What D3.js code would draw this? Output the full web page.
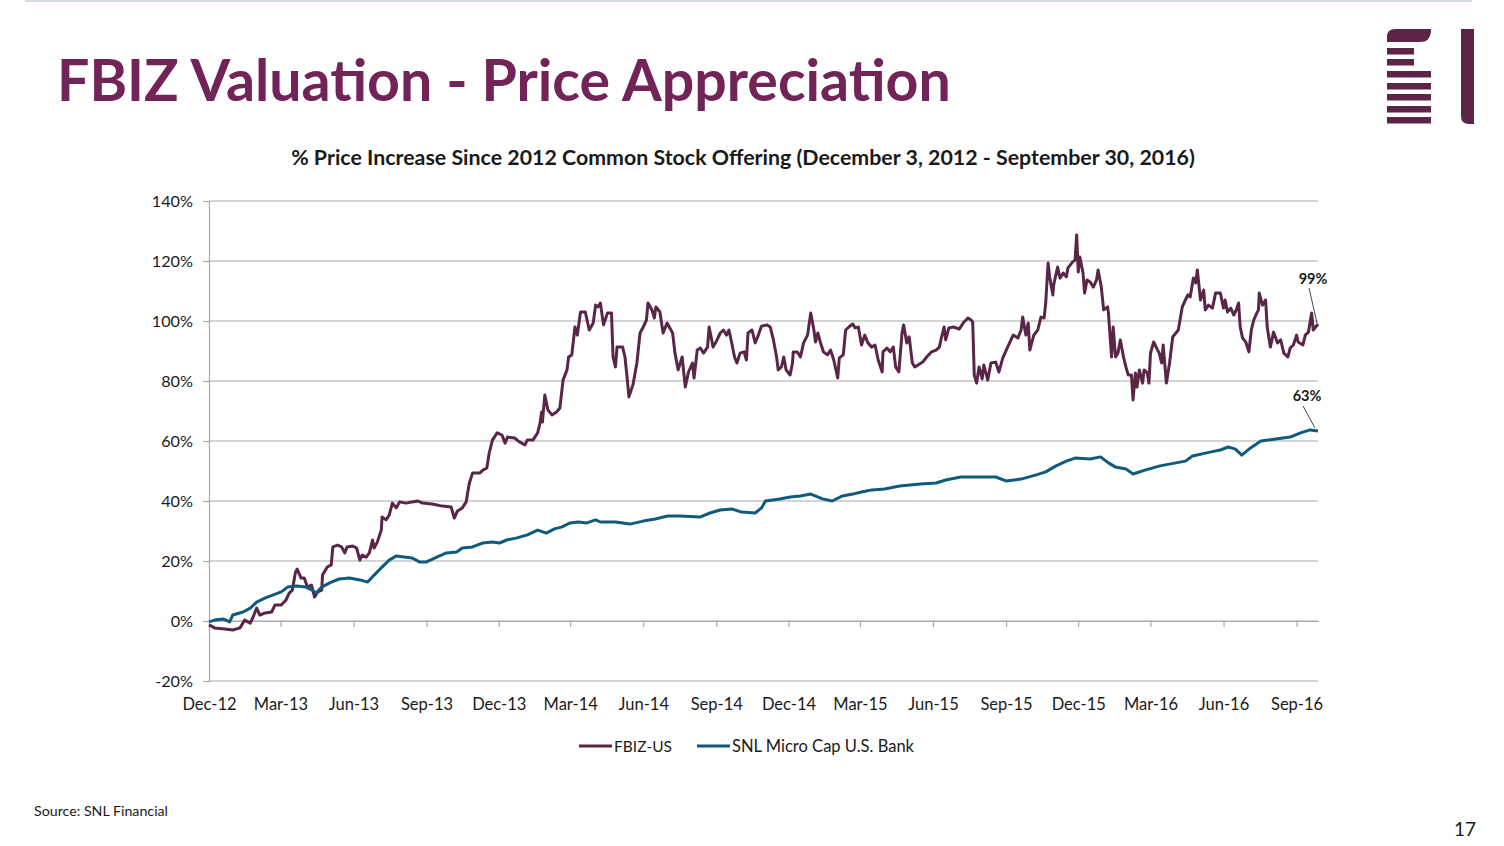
<!DOCTYPE html>
<html><head><meta charset="utf-8">
<script src="https://cdn.jsdelivr.net/npm/d3@7"></script>
<style>html,body{margin:0;padding:0;background:#fff;} svg{display:block;font-family:Lato,'Open Sans',sans-serif;}</style>
</head><body>
<svg id="c" width="1504" height="846"></svg>
<script>
// ---------- DATA ----------
const pageTitle = "FBIZ Valuation - Price Appreciation";
const chartTitle = "% Price Increase Since 2012 Common Stock Offering (December 3, 2012 - September 30, 2016)";
const seriesNames = ["FBIZ-US", "SNL Micro Cap U.S. Bank"];
const xTickLabels = ["Dec-12","Mar-13","Jun-13","Sep-13","Dec-13","Mar-14","Jun-14","Sep-14","Dec-14","Mar-15","Jun-15","Sep-15","Dec-15","Mar-16","Jun-16","Sep-16"];
const xTickDates = ["2012-12-03","2013-03-03","2013-06-03","2013-09-03","2013-12-03","2014-03-03","2014-06-03","2014-09-03","2014-12-03","2015-03-03","2015-06-03","2015-09-03","2015-12-03","2016-03-03","2016-06-03","2016-09-03"];
const xDomain = ["2012-12-03","2016-09-30"];
const yTicks = [-20,0,20,40,60,80,100,120,140];
const endLabels = ["99%","63%"];
const sourceNote = "Source: SNL Financial";
const pageNumber = "17";

// % price change, FBIZ-US
const fbiz = [
["2012-12-03",-1.3],["2012-12-10",-2.3],["2012-12-23",-2.7],["2013-01-02",-3.0],["2013-01-11",-2.3],["2013-01-17",0.3],
["2013-01-24",-0.7],["2013-01-27",1.0],["2013-02-01",4.3],["2013-02-05",2.0],["2013-02-12",2.7],["2013-02-20",3.0],
["2013-02-24",5.3],["2013-03-04",5.3],["2013-03-10",7.0],["2013-03-14",9.3],["2013-03-18",10.3],["2013-03-22",16.3],
["2013-03-24",17.3],["2013-03-29",14.3],["2013-04-02",14.3],["2013-04-06",11.3],["2013-04-11",12.0],["2013-04-15",8.0],
["2013-04-19",9.7],["2013-04-24",10.3],["2013-04-25",15.3],["2013-05-01",18.0],["2013-05-06",18.7],["2013-05-08",24.7],
["2013-05-14",25.3],["2013-05-19",24.7],["2013-05-23",22.7],["2013-05-26",24.7],["2013-06-02",25.0],["2013-06-07",24.3],
["2013-06-11",20.3],["2013-06-14",22.0],["2013-06-19",21.3],["2013-06-23",22.7],["2013-06-27",27.0],["2013-06-29",24.3],
["2013-07-03",26.3],["2013-07-08",30.3],["2013-07-09",34.7],["2013-07-14",33.7],["2013-07-18",35.3],["2013-07-22",39.3],
["2013-07-27",37.7],["2013-07-31",39.7],["2013-08-08",39.3],["2013-08-16",39.7],["2013-08-23",40.0],["2013-08-29",39.3],
["2013-09-10",39.0],["2013-09-23",38.3],["2013-10-04",38.0],["2013-10-08",34.3],["2013-10-12",36.7],["2013-10-18",37.7],
["2013-10-23",39.7],["2013-10-25",43.0],["2013-10-27",46.0],["2013-10-31",49.3],["2013-11-09",49.3],["2013-11-13",50.3],
["2013-11-18",51.0],["2013-11-21",56.0],["2013-11-25",60.3],["2013-12-01",62.7],["2013-12-07",62.0],["2013-12-11",59.3],
["2013-12-14",61.3],["2013-12-23",61.0],["2013-12-29",59.7],["2014-01-05",58.7],["2014-01-08",60.3],["2014-01-15",60.3],
["2014-01-21",62.7],["2014-01-24",66.0],["2014-01-26",69.7],["2014-01-27",66.3],["2014-01-30",75.3],["2014-02-03",70.3],
["2014-02-08",68.7],["2014-02-14",69.7],["2014-02-18",71.0],["2014-02-22",80.3],["2014-02-27",83.7],["2014-03-01",88.0],
["2014-03-05",88.7],["2014-03-09",98.0],["2014-03-12",95.3],["2014-03-16",103.0],["2014-03-22",103.0],["2014-03-27",97.0],
["2014-04-01",99.3],["2014-04-04",105.3],["2014-04-07",104.7],["2014-04-10",106.0],["2014-04-14",98.7],["2014-04-19",102.7],
["2014-04-24",102.7],["2014-04-26",88.0],["2014-04-29",84.7],["2014-05-01",91.3],["2014-05-08",91.3],["2014-05-11",88.0],
["2014-05-14",80.3],["2014-05-16",74.7],["2014-05-21",78.7],["2014-05-26",86.0],["2014-05-30",96.0],["2014-06-03",98.0],
["2014-06-07",100.3],["2014-06-09",106.0],["2014-06-14",103.7],["2014-06-17",101.0],["2014-06-19",104.7],["2014-06-24",103.0],
["2014-06-28",96.0],["2014-07-03",99.3],["2014-07-10",96.0],["2014-07-13",89.3],["2014-07-17",83.7],["2014-07-22",88.0],
["2014-07-26",78.0],["2014-07-30",83.0],["2014-08-04",86.0],["2014-08-06",81.0],["2014-08-10",90.3],["2014-08-14",91.0],
["2014-08-18",89.3],["2014-08-23",91.3],["2014-08-25",98.0],["2014-08-30",91.3],["2014-09-04",93.7],["2014-09-08",96.0],
["2014-09-12",97.0],["2014-09-16",95.3],["2014-09-19",97.0],["2014-09-23",92.0],["2014-09-26",88.0],["2014-09-29",86.0],
["2014-10-03",89.3],["2014-10-08",89.7],["2014-10-11",87.0],["2014-10-13",96.0],["2014-10-18",97.0],["2014-10-22",92.7],
["2014-10-26",95.3],["2014-10-30",98.3],["2014-11-06",98.7],["2014-11-10",98.0],["2014-11-14",93.7],["2014-11-18",88.0],
["2014-11-20",83.7],["2014-11-24",84.7],["2014-11-27",88.0],["2014-11-30",83.7],["2014-12-05",82.0],["2014-12-08",86.0],
["2014-12-09",89.7],["2014-12-14",89.7],["2014-12-18",88.0],["2014-12-22",92.7],["2014-12-27",95.3],["2014-12-31",102.7],
["2015-01-04",97.0],["2015-01-06",93.0],["2015-01-09",96.0],["2015-01-12",93.0],["2015-01-16",89.7],["2015-01-21",88.7],
["2015-01-25",90.3],["2015-01-29",87.0],["2015-02-03",81.0],["2015-02-05",87.7],["2015-02-10",88.7],["2015-02-13",97.0],
["2015-02-17",98.0],["2015-02-22",99.0],["2015-02-25",97.7],["2015-03-01",98.0],["2015-03-05",92.0],["2015-03-09",95.3],
["2015-03-13",92.7],["2015-03-18",91.3],["2015-03-22",92.0],["2015-03-26",87.0],["2015-03-31",83.0],["2015-04-01",89.7],
["2015-04-06",91.0],["2015-04-10",89.7],["2015-04-14",91.3],["2015-04-17",84.7],["2015-04-21",83.0],["2015-04-25",96.0],
["2015-04-27",98.7],["2015-05-01",92.7],["2015-05-04",94.7],["2015-05-08",86.0],["2015-05-11",84.7],["2015-05-15",85.3],
["2015-05-21",86.3],["2015-05-26",88.0],["2015-06-01",89.7],["2015-06-07",90.3],["2015-06-11",91.3],["2015-06-13",93.7],
["2015-06-17",98.0],["2015-06-19",93.7],["2015-06-23",97.7],["2015-06-29",98.0],["2015-07-06",97.3],["2015-07-11",99.3],
["2015-07-17",101.0],["2015-07-21",100.3],["2015-07-23",99.7],["2015-07-25",82.0],["2015-07-28",79.3],["2015-07-31",84.7],
["2015-08-04",80.7],["2015-08-06",85.3],["2015-08-11",80.3],["2015-08-15",86.0],["2015-08-21",86.3],["2015-08-25",83.0],
["2015-08-30",87.7],["2015-09-05",91.3],["2015-09-12",95.3],["2015-09-18",94.3],["2015-09-22",97.0],["2015-09-24",101.3],
["2015-09-28",95.3],["2015-10-01",99.3],["2015-10-03",90.3],["2015-10-08",95.3],["2015-10-13",97.0],["2015-10-17",101.3],
["2015-10-21",101.0],["2015-10-23",106.0],["2015-10-26",119.3],["2015-10-28",114.7],["2015-11-01",108.7],["2015-11-02",112.0],
["2015-11-07",118.0],["2015-11-10",114.3],["2015-11-14",116.0],["2015-11-18",114.7],["2015-11-20",117.7],["2015-11-26",119.7],
["2015-11-29",120.3],["2015-12-01",128.7],["2015-12-03",116.3],["2015-12-05",121.3],["2015-12-09",116.0],["2015-12-11",109.3],
["2015-12-14",113.7],["2015-12-18",113.0],["2015-12-22",111.3],["2015-12-26",113.7],["2015-12-28",117.0],["2016-01-01",111.3],
["2016-01-04",103.7],["2016-01-09",104.7],["2016-01-10",102.7],["2016-01-14",88.0],["2016-01-16",98.0],["2016-01-19",88.0],
["2016-01-22",89.3],["2016-01-25",93.7],["2016-01-29",88.0],["2016-02-01",84.7],["2016-02-04",82.0],["2016-02-08",82.0],
["2016-02-10",73.7],["2016-02-13",82.7],["2016-02-15",78.0],["2016-02-18",83.7],["2016-02-22",79.3],["2016-02-24",83.7],
["2016-02-28",82.7],["2016-03-01",79.3],["2016-03-03",89.3],["2016-03-07",93.0],["2016-03-12",90.3],["2016-03-14",89.3],
["2016-03-17",86.0],["2016-03-19",92.0],["2016-03-23",79.3],["2016-03-27",86.0],["2016-03-31",94.7],["2016-04-04",96.0],
["2016-04-07",97.0],["2016-04-12",104.7],["2016-04-16",107.0],["2016-04-19",108.7],["2016-04-22",108.0],["2016-04-26",114.3],
["2016-04-29",112.7],["2016-05-01",117.0],["2016-05-05",107.0],["2016-05-09",110.3],["2016-05-11",103.7],["2016-05-15",105.3],
["2016-05-20",104.3],["2016-05-24",109.3],["2016-05-30",109.3],["2016-06-03",104.3],["2016-06-05",107.0],["2016-06-08",103.0],
["2016-06-12",104.3],["2016-06-16",102.0],["2016-06-19",103.7],["2016-06-22",106.0],["2016-06-24",98.0],["2016-06-27",94.3],
["2016-07-01",93.0],["2016-07-05",89.7],["2016-07-08",97.0],["2016-07-11",100.3],["2016-07-15",102.7],["2016-07-17",103.7],
["2016-07-18",109.3],["2016-07-22",105.3],["2016-07-26",107.0],["2016-07-28",98.0],["2016-08-01",91.3],["2016-08-05",96.3],
["2016-08-10",92.7],["2016-08-14",93.7],["2016-08-18",89.3],["2016-08-23",88.0],["2016-08-26",91.0],["2016-08-30",92.0],
["2016-09-03",95.3],["2016-09-05",93.0],["2016-09-11",92.0],["2016-09-14",95.3],["2016-09-18",96.3],["2016-09-22",102.7],
["2016-09-24",97.0],["2016-09-27",98.0],["2016-09-30",99.0]
];

// % price change, SNL Micro Cap U.S. Bank index
const snl = [
["2012-12-03",-0.3],["2012-12-10",0.3],["2012-12-21",0.7],["2012-12-29",-0.3],["2013-01-02",2.0],["2013-01-15",3.0],
["2013-01-24",4.3],["2013-02-01",6.3],["2013-02-12",7.7],["2013-02-22",8.7],["2013-03-04",9.7],["2013-03-12",11.3],
["2013-03-23",11.7],["2013-04-04",11.3],["2013-04-12",10.3],["2013-04-17",9.3],["2013-04-24",11.3],["2013-05-04",12.7],
["2013-05-16",14.0],["2013-05-29",14.3],["2013-06-11",13.7],["2013-06-21",13.0],["2013-06-29",15.3],["2013-07-08",17.7],
["2013-07-18",20.3],["2013-07-27",21.7],["2013-08-06",21.3],["2013-08-16",21.0],["2013-08-25",19.7],["2013-09-03",19.7],
["2013-09-16",21.3],["2013-09-28",22.7],["2013-10-11",23.0],["2013-10-18",24.3],["2013-10-31",24.7],["2013-11-13",26.0],
["2013-11-25",26.3],["2013-12-04",26.0],["2013-12-13",27.0],["2013-12-26",27.7],["2014-01-08",28.7],["2014-01-21",30.3],
["2014-02-01",29.3],["2014-02-11",30.7],["2014-02-20",31.3],["2014-03-03",32.7],["2014-03-13",33.0],["2014-03-24",32.7],
["2014-04-04",33.7],["2014-04-10",33.0],["2014-04-29",33.0],["2014-05-17",32.3],["2014-06-03",33.3],["2014-06-18",34.0],
["2014-07-04",35.0],["2014-07-19",35.0],["2014-08-14",34.7],["2014-08-26",36.0],["2014-09-08",37.0],["2014-09-23",37.3],
["2014-10-05",36.3],["2014-10-22",36.0],["2014-10-30",37.7],["2014-11-04",40.0],["2014-11-22",40.7],["2014-12-05",41.3],
["2014-12-18",41.7],["2014-12-31",42.3],["2015-01-15",40.7],["2015-01-27",40.0],["2015-02-09",41.7],["2015-02-22",42.3],
["2015-03-05",43.0],["2015-03-18",43.7],["2015-04-03",44.0],["2015-04-22",45.0],["2015-05-18",45.7],["2015-06-07",46.0],
["2015-06-19",47.0],["2015-07-08",48.0],["2015-08-03",48.0],["2015-08-21",48.0],["2015-09-03",46.7],["2015-09-22",47.3],
["2015-10-11",48.7],["2015-10-23",49.7],["2015-11-05",51.7],["2015-11-18",53.3],["2015-11-29",54.3],["2015-12-18",54.0],
["2015-12-31",54.7],["2016-01-10",52.7],["2016-01-19",51.3],["2016-02-01",50.7],["2016-02-10",49.0],["2016-02-25",50.3],
["2016-03-15",51.7],["2016-04-04",52.7],["2016-04-16",53.3],["2016-04-25",55.0],["2016-05-17",56.3],["2016-05-30",57.0],
["2016-06-09",58.0],["2016-06-18",57.3],["2016-06-26",55.3],["2016-07-07",57.7],["2016-07-20",60.0],["2016-08-08",60.7],
["2016-08-26",61.3],["2016-09-08",62.7],["2016-09-20",63.7],["2016-09-30",63.3]
];

// ---------- DRAW ----------
const colors = {title:"#722357", logo:"#5c2446", fbiz:"#5a2647", snl:"#0f5b7c", grid:"#aaaaaa", text:"#1a1a1a"};
const parse = d3.timeParse("%Y-%m-%d");
const svg = d3.select("#c");

function fit(sel, w){
  const L = sel.node().getComputedTextLength();
  const fs = parseFloat(sel.attr("font-size"));
  if (L > 0) sel.attr("font-size", (fs * w / L).toFixed(2));
}

// top rule
svg.append("line").attr("x1",25).attr("x2",1472).attr("y1",1).attr("y2",1)
  .attr("stroke","#d5dce4").attr("stroke-width",2);

// page title
const tt = svg.append("text").attr("x",57).attr("y",101).attr("font-size",58)
  .attr("font-weight",700).attr("fill",colors.title).text(pageTitle);
fit(tt, 894);

// logo
const lg = svg.append("g").attr("fill",colors.logo);
lg.append("path").attr("d","M1387,42 L1387,37 Q1387,29 1395,29 L1431,29 L1431,32 Q1430,42 1420,42 Z");
[[48,27],[59,27],[71,44],[83,44],[94,44],[106,44],[117,44]].forEach(([yy,w])=>{
  lg.append("rect").attr("x",1387).attr("y",yy).attr("width",w).attr("height",6.5);
});
lg.append("path").attr("d","M1461,29 L1474,29 L1474,124 L1469,124 Q1461,124 1461,116 Z");

// chart title
const ct = svg.append("text").attr("x",743).attr("y",165).attr("text-anchor","middle")
  .attr("font-size",19).attr("font-weight",700).attr("fill",colors.text).text(chartTitle);
fit(ct, 904);

// scales
const x = d3.scaleTime().domain(xDomain.map(parse)).range([209,1318]);
const y = d3.scaleLinear().domain([-20,140]).range([681,201]);

// gridlines
svg.append("g").selectAll("line").data(yTicks).join("line")
  .attr("x1",209).attr("x2",1318).attr("y1",d=>y(d)).attr("y2",d=>y(d))
  .attr("stroke",colors.grid).attr("stroke-width",1.2);

// y axis
const yAx = svg.append("g").attr("transform","translate(209,0)")
  .call(d3.axisLeft(y).tickValues(yTicks).tickFormat(d=>d+"%").tickSize(6).tickPadding(10));
yAx.select(".domain").attr("stroke",colors.grid).attr("stroke-width",1.2);
yAx.selectAll(".tick line").attr("stroke",colors.grid).attr("stroke-width",1.2);
yAx.selectAll(".tick text").attr("font-family","Lato").attr("font-size",16.2).attr("fill",colors.text);

// x axis (on 0% line)
const tickDates = xTickDates.map(parse);
const xAx = svg.append("g").attr("transform",`translate(0,${y(0)})`)
  .call(d3.axisBottom(x).tickValues(tickDates).tickFormat((d,i)=>xTickLabels[i]).tickSize(6).tickSizeOuter(0));
xAx.select(".domain").attr("stroke",colors.grid).attr("stroke-width",1.2);
xAx.selectAll(".tick line").attr("stroke",colors.grid).attr("stroke-width",1.2);
xAx.selectAll(".tick text").attr("font-family","Lato").attr("font-size",16.5).attr("fill",colors.text)
  .attr("y", 710 - y(0) - 12).attr("dy","0.71em");

// lines
const line = d3.line().x(d=>x(parse(d[0]))).y(d=>y(d[1])).curve(d3.curveLinear);
svg.append("path").datum(fbiz).attr("d",line).attr("fill","none")
  .attr("stroke",colors.fbiz).attr("stroke-width",3).attr("stroke-linejoin","round");
svg.append("path").datum(snl).attr("d",line).attr("fill","none")
  .attr("stroke",colors.snl).attr("stroke-width",3).attr("stroke-linejoin","round");

// end labels
const lastF = fbiz[fbiz.length-1], lastS = snl[snl.length-1];
svg.append("line").attr("x1",1309).attr("y1",288).attr("x2",x(parse(lastF[0]))-1).attr("y2",y(lastF[1])-1)
  .attr("stroke","#333").attr("stroke-width",0.9);
svg.append("text").attr("x",1313).attr("y",284).attr("text-anchor","middle").attr("font-size",14.5)
  .attr("font-weight",700).attr("fill",colors.text).text(endLabels[0]);
svg.append("line").attr("x1",1303).attr("y1",406).attr("x2",x(parse(lastS[0]))-3).attr("y2",y(lastS[1])-3)
  .attr("stroke","#333").attr("stroke-width",0.9);
svg.append("text").attr("x",1307).attr("y",401).attr("text-anchor","middle").attr("font-size",14.5)
  .attr("font-weight",700).attr("fill",colors.text).text(endLabels[1]);

// legend
const legend = [{x:579, c:colors.fbiz, t:seriesNames[0], w:58},{x:697, c:colors.snl, t:seriesNames[1], w:182}];
legend.forEach(l=>{
  svg.append("line").attr("x1",l.x).attr("x2",l.x+33).attr("y1",746).attr("y2",746)
    .attr("stroke",l.c).attr("stroke-width",3);
  const t = svg.append("text").attr("x",l.x+35).attr("y",752).attr("font-size",16.5).attr("fill",colors.text).text(l.t);
  fit(t, l.w);
});

// source + page number
const src = svg.append("text").attr("x",34).attr("y",816).attr("font-size",14.3).attr("fill",colors.text).text(sourceNote);
fit(src, 134);
svg.append("text").attr("x",1476).attr("y",836).attr("text-anchor","end").attr("font-size",19).attr("fill",colors.text).text(pageNumber);
</script>
</body></html>
